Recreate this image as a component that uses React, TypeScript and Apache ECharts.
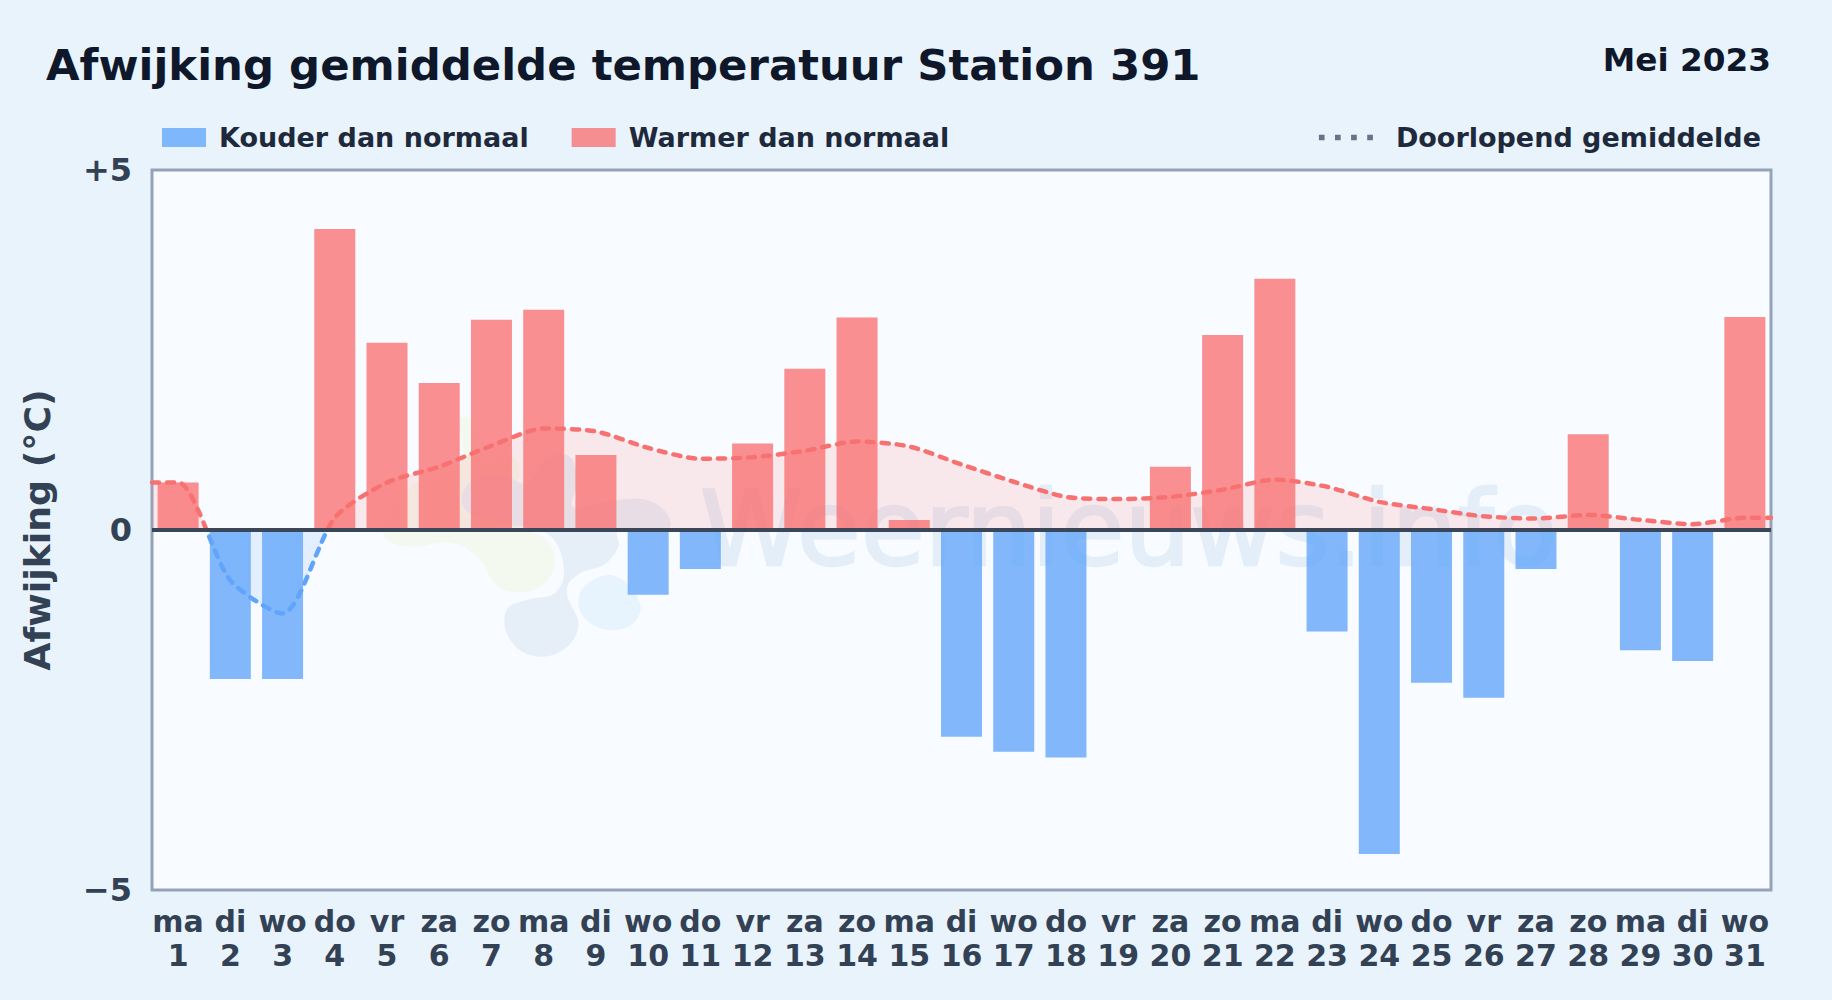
import React, { useEffect, useRef } from "react";
import * as echarts from "echarts";

const FONT = '"DejaVu Sans", sans-serif';

const weekdays = ["ma","di","wo","do","vr","za","zo","ma","di","wo","do","vr","za","zo","ma","di","wo","do","vr","za","zo","ma","di","wo","do","vr","za","zo","ma","di","wo"];
const days = ["1","2","3","4","5","6","7","8","9","10","11","12","13","14","15","16","17","18","19","20","21","22","23","24","25","26","27","28","29","30","31"];
const deviations = [0.66,-2.07,-2.07,4.18,2.60,2.04,2.92,3.06,1.04,-0.90,-0.54,1.20,2.24,2.95,0.14,-2.87,-3.08,-3.16,0,0.88,2.71,3.49,-1.41,-4.50,-2.12,-2.33,-0.54,1.33,-1.67,-1.82,2.96];
const runningMean = [0.66,-0.70,-1.16,0.17,0.66,0.88,1.17,1.41,1.37,1.14,0.99,1.01,1.10,1.23,1.16,0.91,0.67,0.46,0.43,0.46,0.56,0.70,0.60,0.39,0.29,0.19,0.16,0.21,0.14,0.08,0.17];
const yTickLabels: Record<string, string> = { "5": "+5", "0": "0", "-5": "\u22125" };

const COLD = "#60a5fa";
const WARM = "#f87171";
const NAME_COLD = "Kouder dan normaal";
const NAME_WARM = "Warmer dan normaal";
const NAME_MEAN = "Doorlopend gemiddelde";

const z = (zx: number, zy: number) => [370 + zx / 3, 400 + zy / 3];
const blobBlue = [[275,290],[320,235],[400,225],[470,250],[530,175],[600,170],[620,250],[610,320],[740,300],[830,300],[890,340],[895,385],[745,395],[745,440],[700,495],[630,520],[590,570],[625,680],[570,755],[480,765],[415,710],[410,630],[470,600],[560,575],[580,490],[530,400],[400,370],[300,340]].map(([a, b]) => z(a, b));
const blobGreen = [[40,400],[115,265],[270,190],[270,60],[300,55],[330,180],[440,180],[440,370],[530,420],[555,490],[510,560],[420,575],[370,545],[330,480],[250,430],[130,440],[70,430]].map(([a, b]) => z(a, b));
const blobSky = [[625,600],[660,545],[740,530],[810,610],[790,670],[720,690],[650,660]].map(([a, b]) => z(a, b));

const signGradient = () => ({
  type: "linear", x: 0, y: 170, x2: 0, y2: 890, global: true,
  colorStops: [
    { offset: 0, color: WARM }, { offset: 0.5, color: WARM },
    { offset: 0.5, color: COLD }, { offset: 1, color: COLD },
  ],
});

export default function App() {
  const ref = useRef<HTMLDivElement>(null);
  useEffect(() => {
    document.body.style.margin = "0";
    const chart = echarts.init(ref.current!, undefined, { renderer: "svg" });
    const meanPoints: number[][] = [[0, runningMean[0]]];
    runningMean.forEach((v, i) => meanPoints.push([i + 0.5, v]));
    meanPoints.push([31, runningMean[30]]);
    chart.setOption({
      animation: false,
      backgroundColor: "#e8f3fc",
      textStyle: { fontFamily: FONT },
      title: [
        { text: "Afwijking gemiddelde temperatuur Station 391", left: 41, top: 38, textStyle: { fontFamily: FONT, fontWeight: "bold", fontSize: 43.4, color: "#0f172a" } },
        { text: "Mei 2023", right: 56, top: 38, textStyle: { fontFamily: FONT, fontWeight: "bold", fontSize: 32.7, color: "#0f172a" } },
      ],
      legend: [
        {
          left: 157, top: 119, itemWidth: 44, itemHeight: 19, itemGap: 43, selectedMode: false,
          data: [{ name: NAME_COLD, icon: "rect" }, { name: NAME_WARM, icon: "rect" }],
          textStyle: { fontFamily: FONT, fontWeight: "bold", fontSize: 27, color: "#1e293b", padding: [0, 0, 0, 8] },
        },
        {
          right: 66, top: 119, itemWidth: 54, itemHeight: 19, selectedMode: false,
          data: [{
            name: NAME_MEAN,
            icon: "path://M0 8h6v6H0zM17 8h6v6h-6zM34 8h6v6h-6zM51 8h6v6h-6z",
            itemStyle: { color: "#64748b" },
          }],
          textStyle: { fontFamily: FONT, fontWeight: "bold", fontSize: 27, color: "#1e293b", padding: [0, 0, 0, 18] },
        },
      ],
      grid: { left: 152, right: 61, top: 170, bottom: 110, show: true, backgroundColor: "#f8fbff", borderColor: "#94a3b8", borderWidth: 3, containLabel: false },
      xAxis: [
        {
          type: "category",
          data: weekdays.map((w, i) => `${w}\n${days[i]}`),
          position: "bottom",
          axisLine: { show: false }, axisTick: { show: false }, splitLine: { show: false },
          axisLabel: { interval: 0, hideOverlap: false, margin: 14, fontFamily: FONT, fontWeight: "bold", fontSize: 30, lineHeight: 34, color: "#334155" },
        },
        { type: "value", min: 0, max: 31, show: false, position: "bottom" },
      ],
      yAxis: {
        type: "value", min: -5, max: 5, interval: 5,
        name: "Afwijking (\u00b0C)", nameLocation: "middle", nameGap: 96.5, nameRotate: 90,
        nameTextStyle: { fontFamily: FONT, fontWeight: "bold", fontSize: 36.3, color: "#334155" },
        axisLine: { show: false }, axisTick: { show: false }, splitLine: { show: false },
        axisLabel: { margin: 20, fontFamily: FONT, fontWeight: "bold", fontSize: 32, color: "#334155", formatter: (v: number) => yTickLabels[String(v)] ?? String(v) },
      },
      series: [
        { type: "bar", name: NAME_COLD, xAxisIndex: 0, barWidth: 41, barGap: "-100%", z: 2, data: deviations.map((v) => (v < 0 ? v : null)), itemStyle: { color: COLD, opacity: 0.78 } },
        { type: "bar", name: NAME_WARM, xAxisIndex: 0, barWidth: 41, barGap: "-100%", z: 2, data: deviations.map((v) => (v > 0 ? v : null)), itemStyle: { color: WARM, opacity: 0.78 } },
        {
          type: "line", name: NAME_MEAN, xAxisIndex: 1, z: 3, smooth: 0.25, showSymbol: false, symbol: "none",
          data: meanPoints,
          lineStyle: { width: 4.5, type: [7, 8], cap: "round", color: signGradient() },
          areaStyle: { opacity: 0.14, color: signGradient() },
          markLine: {
            silent: true, symbol: "none", z: 6, label: { show: false },
            lineStyle: { color: "#3b4659", width: 4, type: "solid" },
            data: [{ yAxis: 0 }],
          },
        },
      ],
      graphic: [
        { type: "text", z: 1, silent: true, x: 700, y: 477, style: { text: "Weernieuws.info", font: `104px ${FONT}`, fill: "#e4eef8", stroke: "#e4eef8", lineWidth: 2.5 } },
        { type: "polygon", z: 1, silent: true, shape: { points: blobGreen, smooth: 0.4 }, style: { fill: "#f4f9f0" } },
        { type: "polygon", z: 1, silent: true, shape: { points: blobBlue, smooth: 0.4 }, style: { fill: "#e6eff8" } },
        { type: "polygon", z: 1, silent: true, shape: { points: blobSky, smooth: 0.4 }, style: { fill: "#e8f4fd" } },
      ],
    });
    return () => chart.dispose();
  }, []);
  return <div ref={ref} style={{ width: 1832, height: 1000 }} />;
}
